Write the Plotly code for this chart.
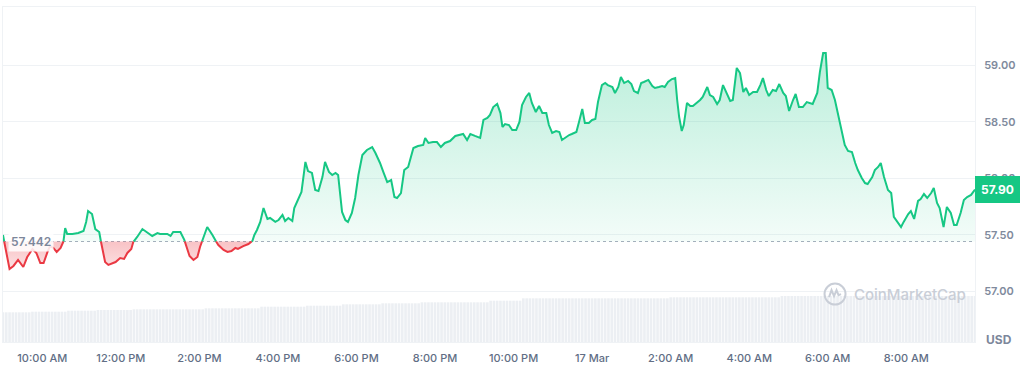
import numpy as np
import pandas as pd
import plotly.graph_objects as go

START = pd.Timestamp("2025-03-16 09:00")

# minutes after 09:00 on 16 Mar, and price in USD
minutes = [
    0, 5, 10, 16, 23, 31, 37, 45, 51, 57, 62, 68, 72, 77, 82, 88, 92, 95, 98, 106,
    115, 123, 127, 130, 136, 141, 147, 150, 156, 161, 172, 179, 185, 190, 196, 199, 205, 213, 217, 228,
    236, 240, 251, 256, 260, 271, 277, 282, 285, 291, 297, 301, 306, 312, 320, 324, 329, 337, 343, 349,
    355, 359, 367, 375, 381, 384, 388, 393, 398, 404, 408, 416, 421, 427, 431, 436, 442, 445, 451, 456,
    462, 466, 472, 477, 482, 488, 492, 498, 503, 508, 512, 518, 523, 527, 533, 538, 543, 549, 556, 564,
    569, 576, 581, 587, 593, 598, 602, 608, 613, 619, 627, 634, 642, 645, 650, 657, 663, 669, 675, 683,
    691, 698, 703, 709, 714, 721, 729, 734, 740, 744, 749, 755, 760, 763, 767, 773, 778, 784, 789, 793,
    799, 804, 808, 814, 819, 824, 830, 834, 839, 845, 850, 854, 860, 865, 869, 876, 880, 885, 889, 895,
    900, 905, 909, 915, 920, 924, 931, 935, 940, 944, 949, 955, 960, 964, 970, 975, 979, 986, 992, 996,
    1002, 1007, 1011, 1016, 1022, 1027, 1030, 1033, 1037, 1040, 1045, 1050, 1054, 1060, 1065, 1069, 1076, 1080, 1085, 1091,
    1095, 1100, 1106, 1111, 1115, 1121, 1126, 1131, 1135, 1140, 1146, 1152, 1157, 1161, 1166, 1170, 1176, 1181, 1186, 1192,
    1196, 1201, 1207, 1211, 1216, 1222, 1228, 1233, 1237, 1244, 1248, 1253, 1257, 1260, 1266, 1271, 1279, 1286, 1291, 1297,
    1302, 1306, 1312, 1317, 1321, 1328, 1332, 1337, 1341, 1346, 1352, 1357, 1361, 1367, 1372, 1376, 1383, 1387, 1392, 1398,
    1402, 1407, 1412, 1418, 1422, 1427, 1431, 1437, 1442, 1448, 1453, 1457, 1463, 1468, 1473, 1479, 1485,
]
price = [
    57.500, 57.341, 57.199, 57.226, 57.279, 57.217, 57.305, 57.376, 57.341, 57.252, 57.252, 57.350, 57.402, 57.385, 57.350, 57.385, 57.429, 57.561, 57.509, 57.509,
    57.517, 57.535, 57.615, 57.711, 57.685, 57.552, 57.526, 57.429, 57.261, 57.235, 57.261, 57.296, 57.288, 57.341, 57.376, 57.438, 57.482, 57.552, 57.535, 57.491,
    57.517, 57.509, 57.509, 57.491, 57.526, 57.526, 57.456, 57.367, 57.314, 57.279, 57.305, 57.394, 57.473, 57.570, 57.500, 57.456, 57.411, 57.367, 57.350, 57.358,
    57.385, 57.376, 57.402, 57.420, 57.447, 57.500, 57.544, 57.615, 57.738, 57.641, 57.650, 57.615, 57.632, 57.676, 57.623, 57.650, 57.623, 57.738, 57.809, 57.879,
    58.144, 58.064, 58.047, 57.897, 57.888, 58.011, 58.144, 58.056, 58.029, 58.047, 58.029, 57.703, 57.632, 57.615, 57.694, 57.826, 58.029, 58.206, 58.250, 58.276,
    58.223, 58.135, 58.056, 57.967, 57.985, 57.835, 57.826, 57.870, 58.073, 58.100, 58.267, 58.285, 58.294, 58.356, 58.312, 58.320, 58.320, 58.276, 58.312, 58.329,
    58.374, 58.382, 58.391, 58.338, 58.391, 58.374, 58.356, 58.515, 58.532, 58.559, 58.629, 58.656, 58.576, 58.453, 58.479, 58.470, 58.426, 58.426, 58.497, 58.647,
    58.718, 58.753, 58.665, 58.585, 58.638, 58.576, 58.576, 58.470, 58.400, 58.417, 58.409, 58.338, 58.365, 58.382, 58.391, 58.409, 58.497, 58.612, 58.488, 58.488,
    58.515, 58.523, 58.673, 58.823, 58.841, 58.823, 58.806, 58.753, 58.806, 58.894, 58.841, 58.859, 58.832, 58.770, 58.753, 58.841, 58.850, 58.868, 58.815, 58.797,
    58.806, 58.815, 58.806, 58.850, 58.876, 58.885, 58.691, 58.541, 58.417, 58.470, 58.665, 58.638, 58.638, 58.665, 58.691, 58.718, 58.806, 58.735, 58.718, 58.656,
    58.691, 58.823, 58.753, 58.682, 58.691, 58.974, 58.929, 58.762, 58.797, 58.735, 58.762, 58.762, 58.823, 58.885, 58.779, 58.726, 58.779, 58.770, 58.832, 58.753,
    58.726, 58.594, 58.691, 58.744, 58.629, 58.629, 58.673, 58.665, 58.656, 58.753, 58.938, 59.106, 59.106, 58.797, 58.779, 58.691, 58.488, 58.294, 58.241, 58.232,
    58.135, 58.073, 58.003, 57.958, 57.950, 58.011, 58.073, 58.100, 58.135, 58.011, 57.897, 57.870, 57.659, 57.606, 57.570, 57.615, 57.685, 57.711, 57.641, 57.800,
    57.817, 57.861, 57.826, 57.870, 57.914, 57.782, 57.738, 57.570, 57.747, 57.694, 57.588, 57.588, 57.694, 57.809, 57.835, 57.853, 57.900,
]
baseline_price = 57.442
last_price = 57.90

# volume bars, one every 5 minutes (relative units)
volume = [
    29.7, 29.7, 29.7, 29.7, 29.7, 29.7, 29.7, 29.7, 29.7,
    30.3, 30.3, 30.3, 30.3, 30.3, 30.3, 30.3, 30.3, 30.3, 30.3, 30.3,
    31.3, 31.3, 31.3, 31.3, 31.3, 31.3, 31.3, 31.3, 31.3,
    32.0, 32.0, 32.0, 32.0, 32.0, 32.0, 32.0, 32.0, 32.0, 32.0, 32.0,
    32.7, 32.7, 32.7, 32.7, 32.7, 32.7, 32.7, 32.7, 32.7, 32.7, 32.7,
    32.7, 32.7, 32.7, 32.7, 32.7, 32.7, 32.7, 32.7, 32.7, 32.7, 32.7,
    33.7, 33.7, 33.7, 33.7, 33.7, 33.7, 33.7, 33.7, 33.7, 33.7, 33.7, 33.7, 33.7, 33.7, 33.7, 33.7, 33.7,
    35.3, 35.3, 35.3, 35.3, 35.3, 35.3, 35.3, 35.3, 35.3, 35.3, 35.3, 35.3, 35.3, 35.3,
    36.3, 36.3, 36.3, 36.3, 36.3, 36.3, 36.3, 36.3, 36.3, 36.3, 36.3,
    37.7, 37.7, 37.7, 37.7, 37.7, 37.7, 37.7, 37.7, 37.7, 37.7, 37.7, 37.7,
    38.7, 38.7, 38.7, 38.7, 38.7, 38.7, 38.7, 38.7, 38.7, 38.7, 38.7, 38.7,
    39.7, 39.7, 39.7, 39.7, 39.7, 39.7, 39.7, 39.7, 39.7, 39.7, 39.7,
    39.7, 39.7, 39.7, 39.7, 39.7, 39.7, 39.7, 39.7, 39.7, 39.7,
    41.3, 41.3, 41.3, 41.3, 41.3, 41.3, 41.3, 41.3, 41.3, 41.3,
    43.7, 43.7, 43.7, 43.7, 43.7, 43.7, 43.7, 43.7, 43.7, 43.7, 43.7, 43.7, 43.7, 43.7, 43.7,
    43.7, 43.7, 43.7, 43.7, 43.7, 43.7, 43.7, 43.7, 43.7, 43.7, 43.7, 43.7, 43.7, 43.7, 43.7,
    43.7, 43.7, 43.7, 43.7, 43.7, 43.7, 43.7, 43.7, 43.7, 43.7, 43.7, 43.7, 43.7, 43.7, 43.7,
    44.7, 44.7, 44.7, 44.7, 44.7, 44.7, 44.7, 44.7, 44.7, 44.7, 44.7, 44.7, 44.7, 44.7, 44.7, 44.7, 44.7,
    44.7, 44.7, 44.7, 44.7, 44.7, 44.7, 44.7, 44.7, 44.7, 44.7, 44.7, 44.7, 44.7, 44.7, 44.7, 44.7, 44.7,
    46.0, 46.0, 46.0, 46.0, 46.0, 46.0, 46.0, 46.0, 46.0, 46.0, 46.0, 46.0, 46.0, 46.0, 46.0,
    46.0, 46.0, 46.0, 46.0, 46.0, 46.0, 46.0, 46.0, 46.0, 46.0, 46.0, 46.0, 46.0, 46.0, 46.0,
    46.0, 46.0, 46.0, 46.0, 46.0, 46.0, 46.0, 46.0, 46.0, 46.0, 46.0, 46.0, 46.0, 46.0, 46.0,
    46.0, 46.0, 46.0, 46.0, 46.0, 46.0, 46.0, 46.0, 46.0, 46.0, 46.0, 46.0, 46.0, 46.0, 46.0,
]
volume_minutes = list(range(0, 5 * len(volume), 5))

tick_minutes = [60, 180, 300, 420, 540, 660, 780, 900, 1020, 1140, 1260, 1380]
tick_labels = ["10:00 AM", "12:00 PM", "2:00 PM", "4:00 PM", "6:00 PM", "8:00 PM",
               "10:00 PM", "17 Mar", "2:00 AM", "4:00 AM", "6:00 AM", "8:00 AM"]
price_ticks = [57.0, 57.5, 58.0, 58.5, 59.0]
price_tick_labels = ["57.00", "57.50", "58.00", "58.50", "59.00"]

GREEN = "#16c784"
RED = "#ea3943"


def to_time(m):
    return START + pd.to_timedelta(np.asarray(m, dtype=float), unit="min")


# insert baseline crossings so colours switch exactly at the baseline
xs, ys = [], []
for i in range(len(minutes)):
    if i > 0:
        p0, p1 = price[i - 1], price[i]
        if (p0 - baseline_price) * (p1 - baseline_price) < 0:
            f = (baseline_price - p0) / (p1 - p0)
            xs.append(minutes[i - 1] + f * (minutes[i] - minutes[i - 1]))
            ys.append(baseline_price)
    xs.append(minutes[i])
    ys.append(price[i])

tx = to_time(xs)
up_line = [y if y >= baseline_price else None for y in ys]
dn_line = [y if y <= baseline_price else None for y in ys]
up_fill = [max(y, baseline_price) for y in ys]
dn_fill = [min(y, baseline_price) for y in ys]
base_arr = [baseline_price] * len(ys)

fig = go.Figure()

fig.add_trace(go.Bar(x=to_time(volume_minutes), y=volume, yaxis="y2",
                     marker=dict(color="#eceff3", line=dict(width=0))))

fig.add_trace(go.Scatter(x=tx, y=base_arr, mode="lines", line=dict(width=0)))
fig.add_trace(go.Scatter(
    x=tx, y=up_fill, mode="lines", line=dict(width=0), fill="tonexty",
    fillgradient=dict(type="vertical", start=baseline_price, stop=59.15,
                      colorscale=[[0, "rgba(22,199,132,0.05)"], [1, "rgba(22,199,132,0.30)"]])))
fig.add_trace(go.Scatter(x=tx, y=base_arr, mode="lines", line=dict(width=0)))
fig.add_trace(go.Scatter(
    x=tx, y=dn_fill, mode="lines", line=dict(width=0), fill="tonexty",
    fillgradient=dict(type="vertical", start=57.19, stop=baseline_price,
                      colorscale=[[0, "rgba(234,57,67,0.14)"], [1, "rgba(234,57,67,0.30)"]])))

fig.add_trace(go.Scatter(x=tx, y=up_line, mode="lines", connectgaps=False,
                         line=dict(color=GREEN, width=2)))
fig.add_trace(go.Scatter(x=tx, y=dn_line, mode="lines", connectgaps=False,
                         line=dict(color=RED, width=2)))

# dotted baseline
fig.add_shape(type="line", xref="paper", x0=0, x1=1, yref="y",
              y0=baseline_price, y1=baseline_price,
              line=dict(color="#a7afbd", width=1, dash="dot"), layer="below")

# baseline label
fig.add_annotation(xref="paper", x=0.005, xanchor="left", yref="y", y=baseline_price,
                   yanchor="middle", text="57.442", showarrow=False,
                   bgcolor="rgba(255,255,255,0.85)", borderpad=2,
                   font=dict(size=12, color="#7d879b", family="Inter", weight=600))

# last price badge
fig.add_annotation(xref="paper", x=1.0, xanchor="left", yref="y", y=last_price,
                   yanchor="middle", text="57.90", showarrow=False,
                   bgcolor=GREEN, bordercolor=GREEN, borderpad=5,
                   font=dict(size=12, color="white", family="Inter", weight=700))

# currency label
fig.add_annotation(xref="paper", x=1.0247, xanchor="center", yref="paper", y=0.006,
                   yanchor="middle", text="USD", showarrow=False,
                   font=dict(size=12, color="#7d879b", family="Inter", weight=700))

# watermark
fig.add_annotation(xref="paper", x=0.873, xanchor="left", yref="paper", y=0.143,
                   yanchor="middle", text="CoinMarketCap", showarrow=False,
                   font=dict(size=15, color="#c9ced7", family="Inter", weight=500))
fig.add_shape(type="circle", xref="paper", yref="paper", xsizemode="pixel", ysizemode="pixel",
              xanchor=0.856, yanchor=0.143, x0=-10.5, x1=10.5, y0=-10.5, y1=10.5,
              line=dict(color="#c9ced7", width=2), layer="above")
fig.add_shape(type="path", xref="paper", yref="paper", xsizemode="pixel", ysizemode="pixel",
              xanchor=0.856, yanchor=0.143,
              path="M -6,-3 L -3.5,4 L -1,-2 L 1.5,4 L 3.5,-1 L 6,0",
              line=dict(color="#c9ced7", width=2), layer="above")

fig.update_layout(
    width=1024, height=368,
    margin=dict(l=3, r=49, t=7, b=26),
    paper_bgcolor="white", plot_bgcolor="white",
    showlegend=False, hovermode=False, bargap=0.2,
    font=dict(family="Inter"),
    xaxis=dict(type="date", range=[to_time([0])[0], to_time([1485])[0]],
               tickmode="array", tickvals=list(to_time(tick_minutes)), ticktext=tick_labels,
               showgrid=False, zeroline=False, showline=True, mirror=True,
               linecolor="#eff2f5", ticks="", ticklabelstandoff=6,
               tickfont=dict(size=11, color="#616e85", family="Inter", weight=500)),
    yaxis=dict(range=[56.555, 59.512], side="right", tickmode="array",
               tickvals=price_ticks, ticktext=price_tick_labels,
               showgrid=True, gridcolor="#eff2f5", zeroline=False,
               showline=True, mirror=True, linecolor="#eff2f5", ticks="",
               ticklabelstandoff=6,
               tickfont=dict(size=11, color="#808a9d", family="Inter", weight=600)),
    yaxis2=dict(overlaying="y", range=[0, 335], visible=False),
)

fig.write_html("out.html", config={"displayModeBar": False})
